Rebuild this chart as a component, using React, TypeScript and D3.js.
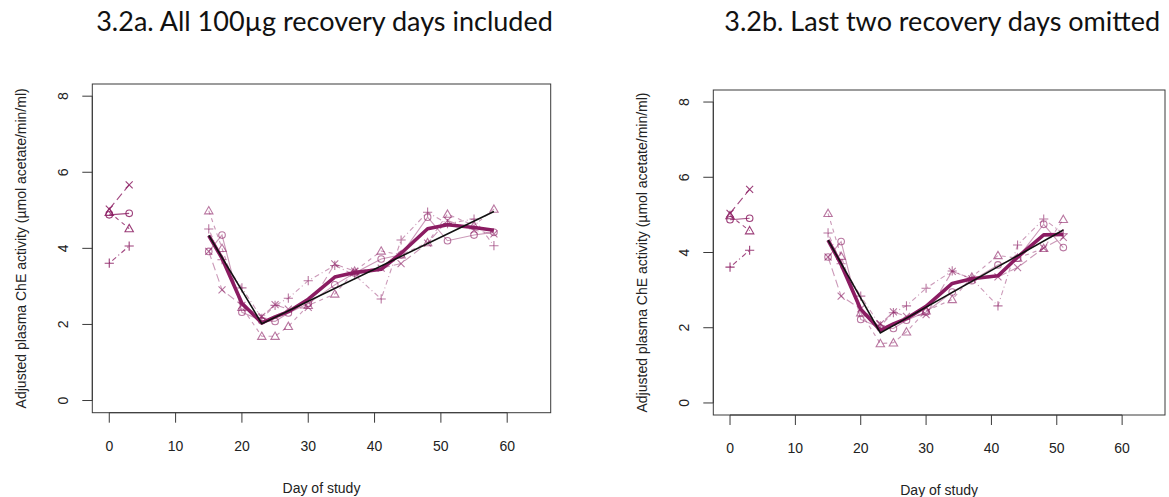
import React from "react";
import * as d3 from "d3";

// ---------- data ----------
const baselineDays = [0, 3];
const recoveryDaysA = [15, 17, 20, 23, 25, 27, 30, 34, 37, 41, 44, 48, 51, 55, 58];
const recoveryDaysB = [15, 17, 20, 23, 25, 27, 30, 34, 37, 41, 44, 48, 51];

// panel a (all recovery days)
const baseO_A = [4.88, 4.92];
const baseT_A = [4.95, 4.52];
const baseP_A = [3.61, 4.06];
const baseX_A = [5.03, 5.67];
const recO_A = [3.92, 4.35, 2.32, 2.1, 2.08, 2.3, 2.55, 3.04, 3.35, 3.72, 3.83, 4.82, 4.2, 4.35, 4.42];
const recT_A = [4.99, 4.0, 2.45, 1.69, 1.69, 1.95, 2.5, 2.8, 3.4, 3.93, 3.83, 4.15, 4.9, 4.6, 5.03];
const recP_A = [4.51, 3.7, 2.96, 2.16, 2.5, 2.69, 3.15, 3.55, 3.3, 2.67, 4.22, 4.95, 4.65, 4.77, 4.07];
const recX_A = [3.92, 2.91, 2.5, 2.21, 2.52, 2.4, 2.45, 3.59, 3.4, 3.48, 3.6, 4.14, 4.73, 4.48, 4.38];
const fitDaysA = [15, 23, 58];
const fitValsA = [4.34, 2.02, 4.97];

// panel b (last two recovery days omitted)
const baseO_B = [4.87, 4.91];
const baseT_B = [4.98, 4.58];
const baseP_B = [3.61, 4.06];
const baseX_B = [5.04, 5.68];
const recO_B = [3.88, 4.29, 2.22, 2.0, 1.98, 2.2, 2.42, 2.95, 3.25, 3.67, 3.85, 4.75, 4.13];
const recT_B = [5.04, 3.9, 2.4, 1.58, 1.6, 1.89, 2.45, 2.75, 3.35, 3.92, 3.85, 4.11, 4.88];
const recP_B = [4.52, 3.7, 2.84, 2.05, 2.4, 2.58, 3.05, 3.51, 3.3, 2.58, 4.2, 4.89, 4.5];
const recX_B = [3.88, 2.84, 2.5, 2.1, 2.42, 2.3, 2.35, 3.5, 3.3, 3.35, 3.6, 4.12, 4.4];
const fitDaysB = [15, 23, 51];
const fitValsB = [4.33, 1.86, 4.6];

const xTicks = [0, 10, 20, 30, 40, 50, 60];
const yTicks = [0, 2, 4, 6, 8];
const titleA = "3.2a. All 100µg recovery days included";
const titleB = "3.2b. Last two recovery days omitted";
const xLabel = "Day of study";
const yLabel = "Adjusted plasma ChE activity (µmol acetate/min/ml)";

// ---------- styles ----------
const PURPLE = "#8b1c62";
const AXIS = "#3a3a3a";
const seriesStyles = [
  { key: "O", dash: "none", shape: "circle" },
  { key: "T", dash: "4,4", shape: "triangle" },
  { key: "P", dash: "1,3,5,3", shape: "plus" },
  { key: "X", dash: "8,4", shape: "cross" },
];

type PanelProps = {
  box: { x0: number; x1: number; y0: number; y1: number };
  title: string;
  titleY: number;
  base: number[][];
  rec: number[][];
  recDays: number[];
  fitDays: number[];
  fitVals: number[];
};

function Marker({ shape, cx, cy, opacity }: { shape: string; cx: number; cy: number; opacity: number }) {
  const r = 3.3;
  const common = { stroke: PURPLE, strokeOpacity: opacity, fill: "none", strokeWidth: 1.1 };
  if (shape === "circle") return <circle cx={cx} cy={cy} r={r} {...common} />;
  if (shape === "triangle") {
    const h = 4.2;
    return <path d={`M${cx},${cy - h}L${cx + h},${cy + h * 0.75}L${cx - h},${cy + h * 0.75}Z`} {...common} />;
  }
  if (shape === "plus") {
    const s = 4.6;
    return <path d={`M${cx - s},${cy}H${cx + s}M${cx},${cy - s}V${cy + s}`} {...common} />;
  }
  const s = 3.5;
  return <path d={`M${cx - s},${cy - s}L${cx + s},${cy + s}M${cx - s},${cy + s}L${cx + s},${cy - s}`} {...common} />;
}

const FONT = "Liberation Sans, Arial, Helvetica, sans-serif";

function Panel({ box, title, titleY, base, rec, recDays, fitDays, fitVals }: PanelProps) {
  const x = d3.scaleLinear().domain([-2.56, 66.56]).range([box.x0, box.x1]);
  const y = d3.scaleLinear().domain([-0.32, 8.32]).range([box.y1, box.y0]);
  const line = d3
    .line<[number, number]>()
    .x((d) => x(d[0]))
    .y((d) => y(d[1]));
  const meanVals = recDays.map((_, i) => d3.mean(rec.map((s) => s[i])) as number);
  const cxMid = (box.x0 + box.x1) / 2;
  const cyMid = (box.y0 + box.y1) / 2;

  return (
    <g>
      <text x={cxMid + 3} y={titleY} textAnchor="middle" fontFamily="Lato, Open Sans, sans-serif" fontSize={27} fill="#111">
        {title}
      </text>
      {/* individual series lines */}
      {seriesStyles.map((st, si) => (
        <g key={st.key}>
          <path
            d={line(baselineDays.map((d, i) => [d, base[si][i]]) as [number, number][]) || ""}
            fill="none"
            stroke={PURPLE}
            strokeOpacity={0.8}
            strokeWidth={1.1}
            strokeDasharray={st.dash}
          />
          <path
            d={line(recDays.map((d, i) => [d, rec[si][i]]) as [number, number][]) || ""}
            fill="none"
            stroke={PURPLE}
            strokeOpacity={0.45}
            strokeWidth={1.1}
            strokeDasharray={st.dash}
          />
          {baselineDays.map((d, i) => (
            <Marker key={"b" + i} shape={st.shape} cx={x(d)} cy={y(base[si][i])} opacity={0.85} />
          ))}
          {recDays.map((d, i) => (
            <Marker key={"r" + i} shape={st.shape} cx={x(d)} cy={y(rec[si][i])} opacity={0.6} />
          ))}
        </g>
      ))}
      {/* mean line */}
      <path
        d={line(recDays.map((d, i) => [d, meanVals[i]]) as [number, number][]) || ""}
        fill="none"
        stroke={PURPLE}
        strokeWidth={3.6}
        strokeLinejoin="round"
      />
      {/* fitted line */}
      <path
        d={line(fitDays.map((d, i) => [d, fitVals[i]]) as [number, number][]) || ""}
        fill="none"
        stroke="#111"
        strokeWidth={1.6}
      />
      {/* box */}
      <rect x={box.x0} y={box.y0} width={box.x1 - box.x0} height={box.y1 - box.y0} fill="none" stroke={AXIS} strokeWidth={1} />
      {/* x axis */}
      <line x1={x(xTicks[0])} x2={x(xTicks[xTicks.length - 1])} y1={box.y1} y2={box.y1} stroke={AXIS} />
      {xTicks.map((t) => (
        <g key={"xt" + t}>
          <line x1={x(t)} x2={x(t)} y1={box.y1} y2={box.y1 + 10} stroke={AXIS} />
          <text x={x(t)} y={box.y1 + 38} textAnchor="middle" fontFamily={FONT} fontSize={14} fill="#222">
            {t}
          </text>
        </g>
      ))}
      {/* y axis */}
      <line x1={box.x0} x2={box.x0} y1={y(yTicks[0])} y2={y(yTicks[yTicks.length - 1])} stroke={AXIS} />
      {yTicks.map((t) => (
        <g key={"yt" + t}>
          <line x1={box.x0 - 10} x2={box.x0} y1={y(t)} y2={y(t)} stroke={AXIS} />
          <text
            transform={`translate(${box.x0 - 24},${y(t)}) rotate(-90)`}
            textAnchor="middle"
            fontFamily={FONT}
            fontSize={14}
            fill="#222"
          >
            {t}
          </text>
        </g>
      ))}
      <text x={cxMid} y={box.y1 + 80} textAnchor="middle" fontFamily={FONT} fontSize={14} fill="#222">
        {xLabel}
      </text>
      <text
        transform={`translate(${box.x0 - 66},${cyMid}) rotate(-90)`}
        textAnchor="middle"
        fontFamily={FONT}
        fontSize={14}
        fill="#222"
      >
        {yLabel}
      </text>
    </g>
  );
}

export default function App() {
  return (
    <svg
      width={1169}
      height={497}
      style={{ position: "absolute", left: 0, top: 0, background: "#fff" }}
      xmlns="http://www.w3.org/2000/svg"
    >
      <rect width={1169} height={497} fill="#fff" />
      <Panel
        box={{ x0: 92.3, x1: 550.7, y0: 84, y1: 412.7 }}
        title={titleA}
        titleY={31}
        base={[baseO_A, baseT_A, baseP_A, baseX_A]}
        rec={[recO_A, recT_A, recP_A, recX_A]}
        recDays={recoveryDaysA}
        fitDays={fitDaysA}
        fitVals={fitValsA}
      />
      <Panel
        box={{ x0: 713.3, x1: 1165, y0: 90, y1: 415 }}
        title={titleB}
        titleY={31}
        base={[baseO_B, baseT_B, baseP_B, baseX_B]}
        rec={[recO_B, recT_B, recP_B, recX_B]}
        recDays={recoveryDaysB}
        fitDays={fitDaysB}
        fitVals={fitValsB}
      />
    </svg>
  );
}
